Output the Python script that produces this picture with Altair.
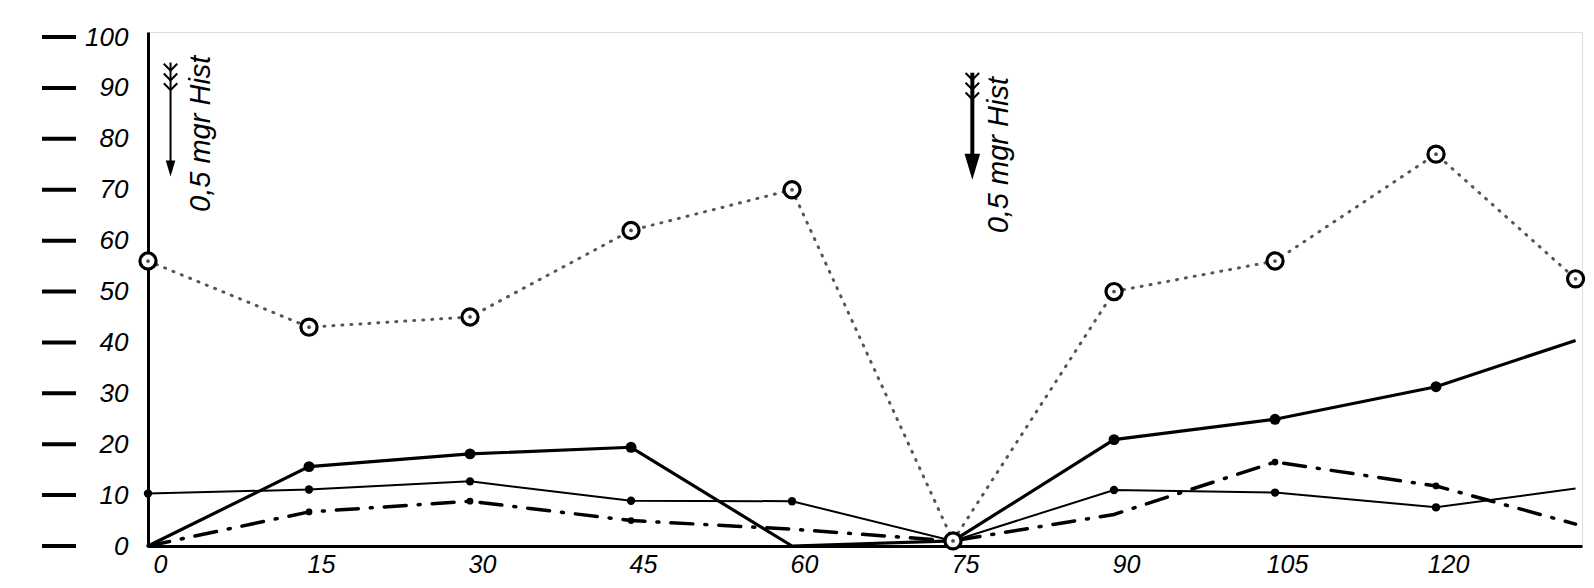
import altair as alt
import pandas as pd

# ---- data ----
minutes = [0, 15, 30, 45, 60, 75, 90, 105, 120, 133]
dotted_circles = [56, 43, 45, 62, 70, 1, 50, 56, 77, 52.5]
wavy_thick = [0, 15.6, 18.1, 19.4, 0, 1, 20.9, 24.9, 31.3, 40.4]
solid_line = [10.3, 11.1, 12.7, 8.9, 8.8, 1, 11.0, 10.5, 7.6, 11.3]
dash_dot = [0, 6.7, 8.8, 5.0, 3.3, 1, 6.2, 16.5, 11.8, 4.3]

wavy_marker_x = [15, 30, 45, 90, 105, 120]
solid_marker_x = [0, 15, 30, 45, 60, 90, 105, 120]
dash_dot_marker_x = [15, 30, 45, 105, 120]

x_ticks = [0, 15, 30, 45, 60, 75, 90, 105, 120]
y_ticks = [0, 10, 20, 30, 40, 50, 60, 70, 80, 90, 100]

# annotations ("0,5 mgr Hist" injections)
ann_label = ["0,5 mgr Hist", "0,5 mgr Hist"]
ann_text_x = [4.9, 79.3]
ann_text_y = [81, 76.8]
arrow_x = [2.1, 76.8]
arrow_top = [95, 93]
arrow_bottom = [74.5, 75.5]
arrow_head_y = [74.2, 74.5]
arrow_fletch_y = [91.8, 90.0]
arrow_width = [2, 4]
arrow_head_size = [256, 676]

FONT = "Liberation Sans"

df = pd.DataFrame({
    "min": minutes,
    "dotted": dotted_circles,
    "wavy": wavy_thick,
    "solid": solid_line,
    "dashdot": dash_dot,
})
ann = pd.DataFrame({
    "label": ann_label, "tx": ann_text_x, "ty": ann_text_y,
    "ax": arrow_x, "atop": arrow_top, "abot": arrow_bottom,
    "ahead": arrow_head_y, "afl": arrow_fletch_y,
    "aw": arrow_width, "hs": arrow_head_size,
})
ticks_df = pd.DataFrame({"tick": y_ticks})

xs = alt.Scale(domain=[0, 133.6], nice=False)
ys = alt.Scale(domain=[0, 101], nice=False)

X = alt.X("min:Q", scale=xs, axis=alt.Axis(
    values=x_ticks, title=None, grid=False, tickSize=0, labelOffset=12,
    labelPadding=6, labelFontSize=25, labelFontStyle="italic", labelFont=FONT,
    labelColor="black", domainColor="black", domainWidth=3, labelFlush=False))

def Y(field):
    return alt.Y(f"{field}:Q", scale=ys, axis=alt.Axis(
        values=y_ticks, title=None, grid=False, tickSize=0, labelPadding=20,
        labelFontSize=26, labelFontStyle="italic", labelFont=FONT,
        labelColor="black", domainColor="black", domainWidth=3))

base = alt.Chart(df)

dotted_line = base.mark_line(color="#555", strokeWidth=3, strokeDash=[1, 8],
                             strokeCap="round").encode(x=X, y=Y("dotted"))
wavy_line = base.mark_line(color="black", strokeWidth=3.2).encode(x=X, y=Y("wavy"))
solid = base.mark_line(color="black", strokeWidth=2).encode(x=X, y=Y("solid"))
dd_line = base.mark_line(color="black", strokeWidth=3.5, strokeDash=[22, 12, 2, 12],
                         strokeCap="round").encode(x=X, y=Y("dashdot"))

dotted_pts = base.mark_point(shape="circle", filled=True, fill="white", stroke="black",
                             strokeWidth=3.2, size=260, opacity=1).encode(x=X, y=Y("dotted"))
dotted_center = base.mark_point(shape="circle", filled=True, color="black",
                                size=14).encode(x=X, y=Y("dotted"))
wavy_pts = base.transform_filter(
    alt.FieldOneOfPredicate(field="min", oneOf=wavy_marker_x)
).mark_point(shape="circle", filled=True, color="black", size=120, opacity=1).encode(
    x=X, y=Y("wavy"))
solid_pts = base.transform_filter(
    alt.FieldOneOfPredicate(field="min", oneOf=solid_marker_x)
).mark_point(shape="circle", filled=True, color="black", size=70, opacity=1).encode(
    x=X, y=Y("solid"))
dd_pts = base.transform_filter(
    alt.FieldOneOfPredicate(field="min", oneOf=dash_dot_marker_x)
).mark_point(shape="circle", filled=True, color="black", size=45, opacity=1).encode(
    x=X, y=Y("dashdot"))

# y-axis dashes drawn before each number
y_dashes = alt.Chart(ticks_df).mark_rule(color="black", strokeWidth=4).encode(
    x=alt.value(-106), x2=alt.value(-72), y=alt.Y("tick:Q", scale=ys))

a = alt.Chart(ann)
shafts = a.mark_rule(color="black").encode(
    x=alt.X("ax:Q", scale=xs), y=alt.Y("atop:Q", scale=ys), y2="abot:Q",
    strokeWidth=alt.StrokeWidth("aw:Q", scale=None))
heads = a.mark_point(shape="M-0.6,-1L0.6,-1L0,1Z", filled=True, color="black",
                     opacity=1).encode(
    x=alt.X("ax:Q", scale=xs), y=alt.Y("ahead:Q", scale=ys),
    size=alt.Size("hs:Q", scale=None))
fletch = a.mark_point(
    shape="M-0.45,-1L0,-0.55L0.45,-1M-0.45,-0.35L0,0.1L0.45,-0.35M-0.45,0.3L0,0.75L0.45,0.3",
    filled=False, color="black", strokeWidth=2, size=900, opacity=1).encode(
    x=alt.X("ax:Q", scale=xs), y=alt.Y("afl:Q", scale=ys))
texts = a.mark_text(angle=270, font=FONT, fontStyle="italic", fontSize=29,
                    color="black", baseline="middle", align="center").encode(
    x=alt.X("tx:Q", scale=xs), y=alt.Y("ty:Q", scale=ys), text="label:N")

chart = alt.layer(
    dotted_line, dd_line, solid, wavy_line,
    dotted_pts, dotted_center, wavy_pts, solid_pts, dd_pts,
    y_dashes, shafts, heads, fletch, texts,
).properties(
    width=1434, height=514,
    padding={"left": 140, "top": 24, "right": 4, "bottom": 34},
    autosize=alt.AutoSizeParams(type="none"),
).configure_view(stroke="black", strokeWidth=3).configure(background="white")

chart.save("out.html", embed_options={"renderer": "svg", "actions": False})
